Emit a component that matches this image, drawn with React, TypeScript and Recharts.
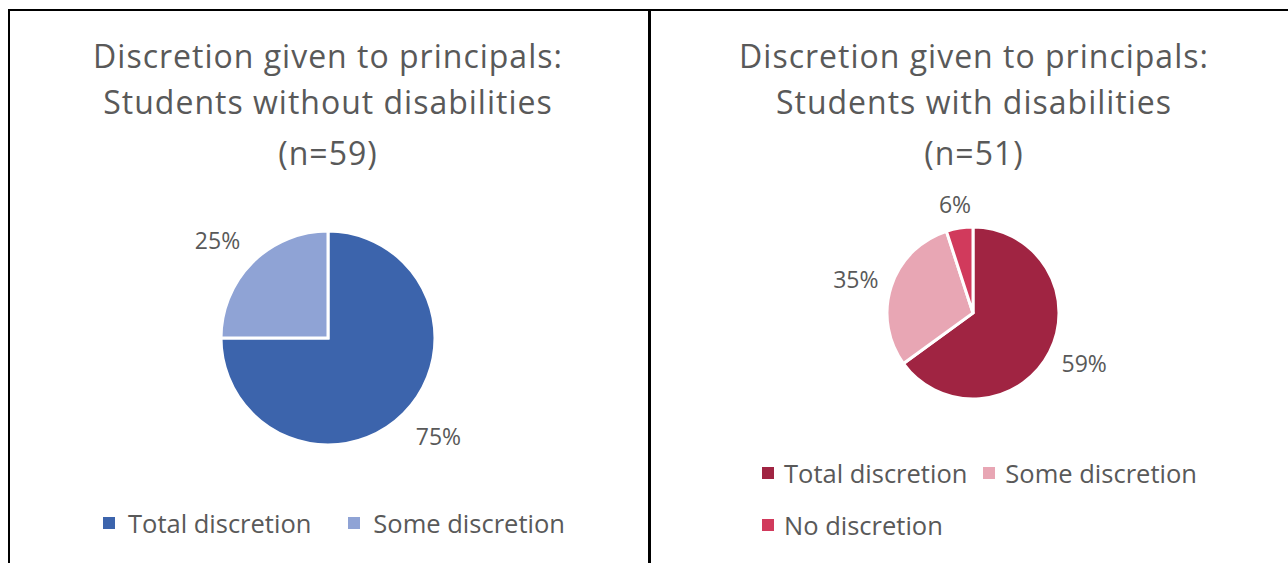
import { Cell, Pie, PieChart } from "recharts";

const leftNames = ["Total discretion", "Some discretion"];
const leftValues = [75, 25];
const leftLabels = ["75%", "25%"];
const leftColors = ["#3C64AC", "#8FA3D5"];

const rightNames = ["Total discretion", "Some discretion", "No discretion"];
const rightValues = [65, 30, 5];
const rightLabels = ["59%", "35%", "6%"];
const rightColors = ["#A02442", "#E8A6B4", "#D13A5C"];

const leftTitle = ["Discretion given to principals:", "Students without disabilities", "(n=59)"];
const rightTitle = ["Discretion given to principals:", "Students with disabilities", "(n=51)"];

const FONT = "'Open Sans', sans-serif";
const TEXT = "#595959";
const RADIAN = Math.PI / 180;
const LABEL_SIZE = 23;
const NO_MARGIN = { top: 0, right: 0, bottom: 0, left: 0 };

// outside-end data labels: the label box touches a point just past the rim
function makeLabel(labels: string[], gap: number) {
  return (props: any) => {
    const { cx, cy, midAngle, outerRadius, index } = props;
    const dx = Math.cos(-midAngle * RADIAN);
    const dy = Math.sin(-midAngle * RADIAN);
    const text = labels[index];
    const hw = text.length * 0.32 * LABEL_SIZE;
    const hh = 10;
    const r = outerRadius + gap;
    const m = Math.max(Math.abs(dx), Math.abs(dy));
    const x = cx + r * dx + (hw * dx) / m;
    const y = cy + r * dy + (hh * dy) / m;
    return (
      <text
        x={x}
        y={y}
        fill={TEXT}
        fontSize={LABEL_SIZE}
        fontFamily={FONT}
        textAnchor="middle"
        dominantBaseline="central"
      >
        {text}
      </text>
    );
  };
}

function Title({ lines, left }: { lines: string[]; left: number }) {
  return (
    <div
      style={{
        position: "absolute",
        left,
        top: 33,
        width: 640,
        textAlign: "center",
        fontFamily: FONT,
        fontSize: 32,
        letterSpacing: 1,
        lineHeight: "45.5px",
        color: TEXT,
      }}
    >
      {lines.map((l, i) => (
        <div key={l} style={{ marginTop: i === 2 ? 6 : 0 }}>
          {l}
        </div>
      ))}
    </div>
  );
}

function Legend({
  names,
  colors,
  left,
  top,
  width,
  gap,
  markGap,
}: {
  names: string[];
  colors: string[];
  left: number;
  top: number;
  width: number;
  gap: number;
  markGap: number;
}) {
  return (
    <div
      style={{
        position: "absolute",
        left,
        top,
        width,
        display: "flex",
        flexWrap: "wrap",
        columnGap: gap,
        rowGap: 16,
        fontFamily: FONT,
        fontSize: 25.5,
        lineHeight: "36px",
        color: TEXT,
      }}
    >
      {names.map((n, i) => (
        <div key={n} style={{ display: "flex", alignItems: "center" }}>
          <span
            style={{
              width: 12,
              height: 12,
              background: colors[i],
              display: "inline-block",
              marginRight: markGap,
            }}
          />
          <span>{n}</span>
        </div>
      ))}
    </div>
  );
}

export default function App() {
  const leftData = leftNames.map((name, i) => ({ name, value: leftValues[i] }));
  const rightData = rightNames.map((name, i) => ({ name, value: rightValues[i] }));

  return (
    <div style={{ position: "relative", width: 1288, height: 563, background: "#fff", overflow: "hidden" }}>
      <style>{"body{margin:0}"}</style>
      <div style={{ position: "absolute", left: 8, top: 9, width: 1280, height: 2, background: "#000" }} />
      <div style={{ position: "absolute", left: 8, top: 9, width: 2, height: 554, background: "#000" }} />
      <div style={{ position: "absolute", left: 648, top: 9, width: 3, height: 554, background: "#000" }} />

      <Title lines={leftTitle} left={8} />
      <Title lines={rightTitle} left={654} />

      <div style={{ position: "absolute", left: 0, top: 0 }}>
        <PieChart width={648} height={563} margin={NO_MARGIN}>
          <Pie
            data={leftData}
            dataKey="value"
            nameKey="name"
            cx={328}
            cy={338}
            outerRadius={107}
            startAngle={90}
            endAngle={-270}
            stroke="#fff"
            strokeWidth={3}
            label={makeLabel(leftLabels, 18)}
            labelLine={false}
            isAnimationActive={false}
          >
            {leftData.map((d, i) => (
              <Cell key={d.name} fill={leftColors[i]} />
            ))}
          </Pie>
        </PieChart>
      </div>

      <div style={{ position: "absolute", left: 651, top: 0 }}>
        <PieChart width={637} height={563} margin={NO_MARGIN}>
          <Pie
            data={rightData}
            dataKey="value"
            nameKey="name"
            cx={322}
            cy={313}
            outerRadius={86}
            startAngle={90}
            endAngle={-270}
            stroke="#fff"
            strokeWidth={3}
            label={makeLabel(rightLabels, 14)}
            labelLine={false}
            isAnimationActive={false}
          >
            {rightData.map((d, i) => (
              <Cell key={d.name} fill={rightColors[i]} />
            ))}
          </Pie>
        </PieChart>
      </div>

      <Legend names={leftNames} colors={leftColors} left={103} top={505} width={530} gap={37} markGap={13} />
      <Legend names={rightNames} colors={rightColors} left={762} top={455} width={480} gap={16} markGap={10} />
    </div>
  );
}
